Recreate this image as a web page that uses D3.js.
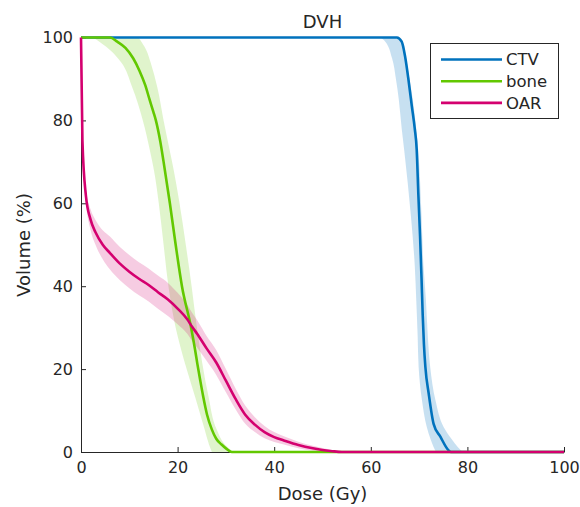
<!DOCTYPE html>
<html><head><meta charset="utf-8">
<script src="https://cdn.jsdelivr.net/npm/d3@7"></script>
<style>body{margin:0;background:#fff}svg{display:block}text{font-family:"DejaVu Sans",sans-serif;fill:#262626}</style>
</head><body><svg id="c" width="580" height="507"></svg>
<script>
// ---- data ----
const xTicks = [0, 20, 40, 60, 80, 100];
const yTicks = [0, 20, 40, 60, 80, 100];
const seriesNames = ["CTV", "bone", "OAR"];
const seriesColors = ["#0072BD", "#62C800", "#D4006F"];

// CTV mean curve
const ctvDose = [0, 65.4, 66.4, 67.1, 67.8, 68.5, 69.1, 69.5, 69.85, 70.2, 70.5, 70.75, 71.0, 71.3, 72.0, 73.0, 74.4, 76.1, 76.6, 100];
const ctvVol  = [100, 100, 99, 95.4, 89.8, 83.4, 78, 73, 62, 52, 42, 33, 26, 20.5, 14, 6.8, 3.7, 0.4, 0, 0];
// CTV band (dose range at each volume level)
const ctvBandVol  = [100, 99, 95, 90, 85, 78, 73, 57, 45, 37, 28, 20.5, 12.4, 6, 3, 1.2, 0];
const ctvBandLow  = [62, 63, 64.4, 65.2, 65.8, 66.4, 66.9, 68.3, 69.1, 69.4, 69.7, 69.9, 70.6, 71.6, 72.4, 73, 73.5];
const ctvBandHigh = [65.8, 66.6, 67.3, 68.0, 68.7, 69.4, 69.8, 70.5, 70.9, 71.4, 71.8, 72.3, 73.4, 75.1, 76.8, 78, 79];

// bone mean curve
const boneDose = [0, 6, 7.5, 9.2, 10.8, 12.1, 13.3, 14.2, 15, 15.5, 16.4, 17.1, 18.4, 19.6, 20.9, 22.8, 23.6, 24.1, 24.7, 25.3, 26.1, 27.1, 28, 29.1, 30.2, 31.2, 100];
const boneVol  = [100, 100, 99, 97.5, 95, 92, 88.5, 85, 82, 80, 75, 70, 60, 50, 40, 30, 24.8, 21.2, 17.2, 13.4, 9, 5.4, 3.2, 1.8, 0.7, 0, 0];
// bone band
const boneBandVol  = [100, 97, 94, 88, 80, 72, 68, 60, 50, 40, 30, 21.5, 13.4, 5.4, 1.8, 0];
const boneBandLow  = [2.5, 6, 8.3, 10.6, 12.8, 14.4, 15.1, 16.1, 17.1, 18.1, 19.6, 21.5, 23.6, 25.6, 26.5, 27.1];
const boneBandHigh = [11.9, 13.5, 14.4, 15.8, 17.1, 18.5, 19.2, 20.4, 21.7, 22.9, 24, 25.1, 26.4, 28.1, 29.8, 31.5];

// OAR mean curve and band (volume range at each dose)
const oarDose  = [0, 0.3, 1, 2, 3, 4.5, 6, 8, 10, 12, 14, 16, 18, 20, 22, 23, 24, 26, 28, 30, 32, 34, 36, 38, 40, 42, 45, 48, 52, 54, 100];
const oarVol   = [100, 75, 62, 56, 53, 50, 48, 45.5, 43.5, 41.8, 40.3, 38.5, 36.8, 34.6, 32, 30.2, 28.6, 25, 21.6, 17.2, 12.8, 9, 6.6, 4.8, 3.6, 2.8, 1.7, 0.9, 0.2, 0, 0];
const oarUpper = [100, 76, 63.5, 58.5, 56, 53.5, 52, 49.5, 47.5, 45.8, 44.3, 42.5, 40.8, 38.4, 35.5, 33.6, 31.9, 28, 24.6, 20, 15.3, 11.2, 8.4, 6.3, 4.8, 3.8, 2.5, 1.5, 0.5, 0, 0];
const oarLower = [100, 74, 60.5, 53.5, 50, 46.5, 44, 41.5, 39.5, 37.8, 36.3, 34.5, 32.8, 30.8, 28.5, 26.8, 25.3, 22, 18.6, 14.4, 10.3, 6.8, 4.8, 3.3, 2.4, 1.8, 0.9, 0.3, 0, 0, 0];

// ---- drawing ----
const svg = d3.select("#c");
const x = d3.scaleLinear().domain([0, 100]).range([81, 564]);
const y = d3.scaleLinear().domain([0, 100]).range([452, 37.5]);

const hBand = (vols, lo, hi) => d3.area().curve(d3.curveMonotoneY)
  .y((d, i) => y(vols[i])).x0((d, i) => x(lo[i])).x1((d, i) => x(hi[i]))(vols);
const vBand = (doses, lo, hi) => d3.area().curve(d3.curveMonotoneX)
  .x((d, i) => x(doses[i])).y0((d, i) => y(lo[i])).y1((d, i) => y(hi[i]))(doses);
const line = (doses, vols) => d3.line().curve(d3.curveMonotoneX)
  .x((d, i) => x(doses[i])).y((d, i) => y(vols[i]))(doses);

// axes
const gx = svg.append("g").attr("transform", "translate(0,452)")
  .call(d3.axisBottom(x).tickValues(xTicks).tickSizeInner(-5).tickSizeOuter(0).tickPadding(10));
const gy = svg.append("g").attr("transform", "translate(81,0)")
  .call(d3.axisLeft(y).tickValues(yTicks).tickSizeInner(-5).tickSizeOuter(0).tickPadding(8));
[gx, gy].forEach(g => {
  g.select(".domain").attr("stroke", "#262626");
  g.selectAll(".tick line").attr("stroke", "#262626");
  g.selectAll(".tick text").attr("font-size", 16).attr("font-family", "DejaVu Sans").attr("fill", "#262626");
});

// bands
svg.append("path").attr("d", hBand(ctvBandVol, ctvBandLow, ctvBandHigh)).attr("fill", seriesColors[0]).attr("fill-opacity", 0.22);
svg.append("path").attr("d", hBand(boneBandVol, boneBandLow, boneBandHigh)).attr("fill", seriesColors[1]).attr("fill-opacity", 0.2);
svg.append("path").attr("d", vBand(oarDose, oarLower, oarUpper)).attr("fill", seriesColors[2]).attr("fill-opacity", 0.2);

// lines
const lines = [[ctvDose, ctvVol], [boneDose, boneVol], [oarDose, oarVol]];
lines.forEach((l, i) => {
  svg.append("path").attr("d", line(l[0], l[1])).attr("fill", "none")
    .attr("stroke", seriesColors[i]).attr("stroke-width", 2.6).attr("stroke-linejoin", "round");
});

// labels
svg.append("text").attr("x", 322.5).attr("y", 28).attr("text-anchor", "middle").attr("font-size", 18).text("DVH");
svg.append("text").attr("x", 322.5).attr("y", 500).attr("text-anchor", "middle").attr("font-size", 18).text("Dose (Gy)");
svg.append("text").attr("transform", "translate(30,245) rotate(-90)").attr("text-anchor", "middle").attr("font-size", 18).text("Volume (%)");

// legend
const lg = svg.append("g");
lg.append("rect").attr("x", 430.5).attr("y", 43.5).attr("width", 128).attr("height", 75)
  .attr("fill", "#fff").attr("stroke", "#262626").attr("stroke-width", 1);
seriesNames.forEach((n, i) => {
  const yy = 59.5 + i * 21.7;
  lg.append("line").attr("x1", 441).attr("x2", 502).attr("y1", yy).attr("y2", yy)
    .attr("stroke", seriesColors[i]).attr("stroke-width", 2.6);
  lg.append("text").attr("x", 506).attr("y", yy).attr("dy", "0.35em").attr("font-size", 16.5).text(n);
});
</script></body></html>
